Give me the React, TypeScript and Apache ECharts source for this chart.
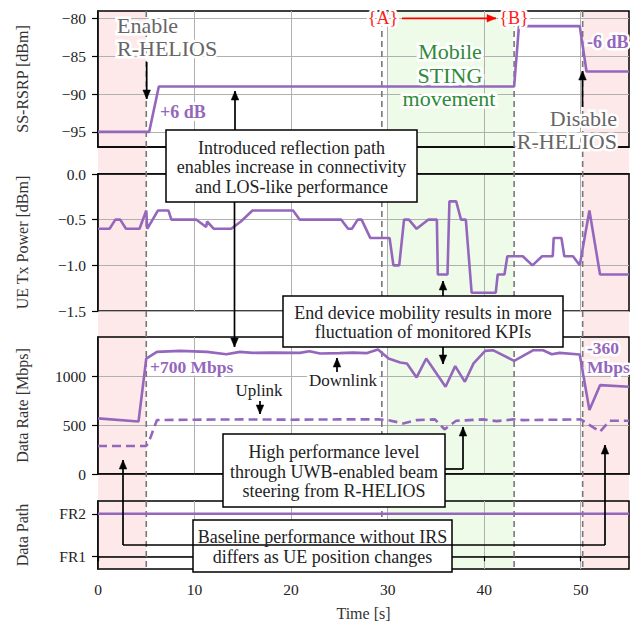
import React, { useEffect, useRef } from "react";
import * as echarts from "echarts";

// ---------- data ----------
const xTicks = [0, 10, 20, 30, 40, 50];
const rsrpTicks = [-95, -90, -85, -80];
const txTicks = [-1.5, -1.0, -0.5, 0.0];
const rateTicks = [0, 500, 1000];
const pathTicks = [0, 1];
const pathLabels = ["FR1", "FR2"];

const rsrpTime = [0, 5.3, 6.3, 43.1, 43.6, 49.9, 50.6, 55];
const rsrpValues = [-95, -95, -89, -89, -81, -81, -87, -87];

const txTime = [0, 1.2, 1.8, 2.3, 2.9, 4.3, 5.0, 5.1, 6.2, 7.3, 7.6, 10.2, 11.2, 11.3, 12.0, 13.8, 14.8, 16.0, 20.2, 20.9, 25.2, 25.9, 26.3, 26.9, 27.3, 28.2, 30.2, 30.6, 31.2, 31.7, 32.2, 33.0, 34.2, 35.1, 35.2, 36.2, 36.4, 37.1, 37.6, 38.1, 38.7, 41.2, 41.4, 42.1, 42.4, 44.0, 45.0, 46.0, 47.1, 47.2, 48.0, 48.3, 49.2, 49.9, 50.9, 52.0, 55];
const txValues = [-0.6, -0.6, -0.5, -0.5, -0.6, -0.6, -0.4, -0.6, -0.4, -0.4, -0.5, -0.5, -0.58, -0.52, -0.6, -0.6, -0.52, -0.4, -0.4, -0.5, -0.5, -0.6, -0.6, -0.5, -0.5, -0.7, -0.7, -1.0, -1.0, -0.5, -0.5, -0.6, -0.5, -0.5, -1.1, -1.1, -0.3, -0.3, -0.5, -0.5, -1.3, -1.3, -1.1, -1.1, -0.9, -0.9, -1.0, -0.9, -0.9, -0.7, -0.7, -0.9, -0.9, -1.0, -0.4, -1.1, -1.1];

const dlTime = [0, 4.2, 5.0, 6.1, 8.5, 11.3, 13.3, 14.7, 16.0, 18.0, 20.9, 21.9, 23.0, 25.0, 26.4, 27.8, 29.0, 30.1, 31.3, 32.0, 33.0, 34.0, 36.0, 37.0, 38.0, 38.9, 40.1, 40.9, 43.1, 45.1, 46.1, 47.0, 47.8, 49.9, 50.9, 52.0, 55];
const dlValues = [568, 537, 1180, 1248, 1258, 1248, 1224, 1248, 1238, 1240, 1238, 1255, 1231, 1235, 1240, 1235, 1272, 1180, 1140, 1130, 987, 1180, 891, 1102, 942, 1130, 1258, 1265, 1156, 1265, 1265, 1224, 1238, 1221, 653, 908, 891];

const ulTime = [0, 5.0, 5.4, 6.1, 10, 15, 20, 25, 29.0, 30.1, 31.6, 33.0, 34.9, 35.9, 37.1, 39.9, 41.3, 43.0, 44.1, 50.0, 52.0, 53.0, 55];
const ulValues = [286, 286, 364, 551, 555, 558, 555, 558, 558, 550, 517, 551, 558, 456, 544, 558, 540, 558, 551, 558, 432, 544, 544];

const pathTime = [0, 55];
const pathValues = [1, 1];

const eventTimes = [5.0, 29.4, 43.1, 50.2];
const pinkRanges = [[0, 5.0], [50.2, 55]];
const greenRanges = [[30.0, 43.0]];

// ---------- styling ----------
const FONT = "Liberation Serif, serif";
const PURPLE = "#9467bd";
const zip = (a: number[], b: number[]) => a.map((v, i) => [v, b[i]]);
const minus = (s: string) => s.replace("-", "\u2212");

function txt(text: string, x: number, y: number, o: any = {}) {
  return {
    type: "text",
    z: 120,
    style: {
      text,
      x,
      y,
      fill: o.fill ?? "#222",
      fontFamily: FONT,
      fontSize: o.size ?? 18,
      fontWeight: o.weight ?? "normal",
      align: o.align ?? "center",
      verticalAlign: "middle",
      lineHeight: o.lh ?? 20,
      stroke: o.halo ? "#fff" : null,
      lineWidth: o.halo ? 5 : 0,
    },
  };
}

function head(x: number, y: number, fx: number, fy: number, color: string) {
  const dx = x - fx, dy = y - fy;
  const len = Math.hypot(dx, dy) || 1;
  const ux = dx / len, uy = dy / len;
  const L = 9, W = 3.8;
  const bx = x - ux * L, by = y - uy * L;
  return {
    type: "polygon",
    z: 121,
    shape: { points: [[x, y], [bx - uy * W, by + ux * W], [bx + uy * W, by - ux * W]] },
    style: { fill: color, stroke: color, lineWidth: 0.5 },
  };
}

function arrow(pts: number[][], color = "#000", both = false) {
  const els: any[] = [];
  for (let i = 0; i < pts.length - 1; i++) {
    els.push({
      type: "line",
      z: 120,
      shape: { x1: pts[i][0], y1: pts[i][1], x2: pts[i + 1][0], y2: pts[i + 1][1] },
      style: { stroke: color, lineWidth: 1.7 },
    });
  }
  const n = pts.length;
  els.push(head(pts[n - 1][0], pts[n - 1][1], pts[n - 2][0], pts[n - 2][1], color));
  if (both) els.push(head(pts[0][0], pts[0][1], pts[1][0], pts[1][1], color));
  return els;
}

function box(x: number, y: number, w: number, h: number, lines: string) {
  return [
    { type: "rect", z: 118, shape: { x, y, width: w, height: h }, style: { fill: "#fff", stroke: "#000", lineWidth: 1.5 } },
    txt(lines, x + w / 2, y + h / 2 + 1, { size: 18, lh: 19.5 }),
  ];
}

export default function App() {
  const ref = useRef<HTMLDivElement>(null);

  useEffect(() => {
    if (!ref.current) return;
    const chart = echarts.init(ref.current, undefined, { renderer: "svg" });

    const grids = [
      { left: 98, right: 10, top: 11, height: 136 },
      { left: 98, right: 10, top: 174, height: 137 },
      { left: 98, right: 10, top: 337, height: 137 },
      { left: 98, right: 10, top: 501, height: 68 },
    ].map((g) => ({ ...g, show: true, borderColor: "#000", borderWidth: 1.5, backgroundColor: "transparent" }));

    const labelStyle = { fontFamily: FONT, fontSize: 15.5, color: "#222" };
    const nameStyle = { fontFamily: FONT, fontSize: 16, color: "#333" };

    const xAxis = [0, 1, 2, 3].map((i) => ({
      type: "value",
      gridIndex: i,
      min: 0,
      max: 55,
      interval: 10,
      axisLine: { show: true, lineStyle: { color: "#000", width: 1.5 } },
      axisTick: { show: i === 3, length: 5, customValues: xTicks, lineStyle: { color: "#000", width: 1.2 } },
      axisLabel: { show: i === 3, customValues: xTicks, margin: 12, formatter: (v: number) => String(v), ...labelStyle },
      splitLine: { show: true, lineStyle: { color: "#b0b0b0", width: 1 } },
      name: i === 3 ? "Time [s]" : "",
      nameLocation: "middle",
      nameGap: 36,
      nameTextStyle: nameStyle,
    }));

    const yBase = (i: number) => ({
      type: "value",
      gridIndex: i,
      axisLine: { show: true, lineStyle: { color: "#000", width: 1.5 } },
      splitLine: { show: true, lineStyle: { color: "#b0b0b0", width: 1 } },
      nameLocation: "middle",
      nameTextStyle: nameStyle,
    });

    const yAxis = [
      {
        ...yBase(0),
        min: -97,
        max: -79,
        splitNumber: 4,
        name: "SS-RSRP [dBm]",
        nameGap: 68,
        axisTick: { show: true, length: 6, customValues: rsrpTicks, lineStyle: { color: "#000", width: 1.2 } },
        axisLabel: { customValues: rsrpTicks, margin: 12, formatter: (v: number) => minus(String(v)), ...labelStyle },
      },
      {
        ...yBase(1),
        min: -1.5,
        max: 0,
        interval: 0.5,
        name: "UE Tx Power [dBm]",
        nameGap: 68,
        axisTick: { show: true, length: 6, customValues: txTicks, lineStyle: { color: "#000", width: 1.2 } },
        axisLabel: { customValues: txTicks, margin: 12, formatter: (v: number) => (Math.abs(v) < 1e-9 ? "0.0" : minus(v.toFixed(1))), ...labelStyle },
      },
      {
        ...yBase(2),
        min: 0,
        max: 1400,
        interval: 500,
        name: "Data Rate [Mbps]",
        nameGap: 68,
        axisTick: { show: true, length: 6, customValues: rateTicks, lineStyle: { color: "#000", width: 1.2 } },
        axisLabel: { customValues: rateTicks, margin: 12, formatter: (v: number) => String(v), ...labelStyle },
      },
      {
        ...yBase(3),
        min: -0.3,
        max: 1.3,
        splitNumber: 2,
        name: "Data Path",
        nameGap: 68,
        axisTick: { show: true, length: 6, customValues: pathTicks, lineStyle: { color: "#000", width: 1.2 } },
        axisLabel: { customValues: pathTicks, margin: 12, formatter: (v: number) => pathLabels[Math.round(v)] ?? "", ...labelStyle },
      },
    ];

    const line = (idx: number, data: number[][], dashed = false) => ({
      type: "line",
      xAxisIndex: idx,
      yAxisIndex: idx,
      data,
      symbol: "none",
      showSymbol: false,
      z: 5,
      lineStyle: { color: PURPLE, width: 2.6, type: dashed ? [9, 5] : "solid" },
      silent: true,
    });

    chart.setOption({
      animation: false,
      backgroundColor: "#fff",
      textStyle: { fontFamily: FONT },
      grid: grids,
      xAxis,
      yAxis,
      series: [
        line(0, zip(rsrpTime, rsrpValues)),
        line(1, zip(txTime, txValues)),
        line(2, zip(dlTime, dlValues)),
        line(2, zip(ulTime, ulValues), true),
        line(3, zip(pathTime, pathValues)),
      ],
    });

    const X = (v: number) => chart.convertToPixel({ xAxisIndex: 0 } as any, v) as number;
    const Y = (i: number, v: number) => chart.convertToPixel({ yAxisIndex: i } as any, v) as number;
    const top = Y(0, -79);
    const bottom = Y(3, -0.3);

    const els: any[] = [];
    pinkRanges.forEach(([a, b]) =>
      els.push({ type: "rect", z: -5, silent: true, shape: { x: X(a), y: top, width: X(b) - X(a), height: bottom - top }, style: { fill: "#fde9e9" } })
    );
    greenRanges.forEach(([a, b]) =>
      els.push({ type: "rect", z: -5, silent: true, shape: { x: X(a), y: top, width: X(b) - X(a), height: bottom - top }, style: { fill: "#eefbe9" } })
    );
    eventTimes.forEach((t) =>
      els.push({ type: "line", z: 3, shape: { x1: X(t), y1: top, x2: X(t), y2: bottom }, style: { stroke: "#777", lineWidth: 1.6, lineDash: [6, 4] } })
    );

    // top panel annotations
    els.push(txt("Enable", 117, 25, { size: 22, fill: "#666", align: "left", halo: true }));
    els.push(txt("R-HELIOS", 117, 48, { size: 22, fill: "#666", align: "left", halo: true }));
    els.push(...arrow([[146.7, 62], [146.7, 99]]));
    els.push(txt("+6 dB", 160, 112, { size: 18, weight: "bold", fill: PURPLE, align: "left", halo: true }));
    els.push(txt("-6 dB", 587, 42, { size: 18, weight: "bold", fill: PURPLE, align: "left", halo: true }));
    els.push(txt("Mobile", 450, 51, { size: 22, fill: "#2e8b37", halo: true }));
    els.push(txt("STING", 450, 75, { size: 22, fill: "#2e8b37", halo: true }));
    els.push(txt("movement", 449, 98, { size: 22, fill: "#2e8b37", halo: true }));
    els.push(txt("{A}", 383, 18, { size: 18, fill: "#ff1a1a", halo: true }));
    els.push(txt("{B}", 514, 18, { size: 18, fill: "#ff1a1a", halo: true }));
    els.push(...arrow([[402, 18.3], [496, 18.3]], "#ff0000"));
    els.push(txt("Disable", 617, 118, { size: 22, fill: "#666", align: "right", halo: true }));
    els.push(txt("R-HELIOS", 617, 141, { size: 22, fill: "#666", align: "right", halo: true }));
    els.push(...arrow([[582.5, 107], [582.5, 71]]));

    // box 1
    els.push(...arrow([[235, 130], [235, 91]]));
    els.push(...arrow([[234.5, 202], [234.5, 347]]));
    els.push(...box(166, 130, 251, 72, "Introduced reflection path\nenables increase in connectivity\nand LOS-like performance"));

    // box 2
    els.push(...arrow([[443, 296], [443, 281]]));
    els.push(...arrow([[443, 347], [443, 364]]));
    els.push(...box(283, 296, 280, 51, "End device mobility results in more\nfluctuation of monitored KPIs"));

    // data rate annotations
    els.push(txt("+700 Mbps", 150, 367, { size: 17.5, weight: "bold", fill: PURPLE, align: "left", halo: true }));
    els.push(txt("-360", 587, 348, { size: 17.5, weight: "bold", fill: PURPLE, align: "left", halo: true }));
    els.push(txt("Mbps", 587, 367, { size: 17.5, weight: "bold", fill: PURPLE, align: "left", halo: true }));
    els.push(txt("Uplink", 259, 390, { size: 17, halo: true }));
    els.push(...arrow([[260, 401], [260, 414]]));
    els.push(txt("Downlink", 343, 380, { size: 17, halo: true }));
    els.push(...arrow([[337, 372], [337, 358]]));

    // box 3
    els.push(...arrow([[445, 469], [463, 469], [463, 427]]));
    els.push(...box(223, 434, 222, 73, "High performance level\nthrough UWB-enabled beam\nsteering from R-HELIOS"));

    // bracket + box 4
    els.push(...arrow([[123, 460], [123, 545], [605, 545], [605, 445]], "#000", true));
    els.push(...box(193, 520, 259, 52, "Baseline performance without IRS\ndiffers as UE position changes"));

    chart.setOption({ graphic: { elements: els } });

    return () => chart.dispose();
  }, []);

  return <div ref={ref} style={{ position: "absolute", left: 0, top: 0, width: 639, height: 626 }} />;
}
